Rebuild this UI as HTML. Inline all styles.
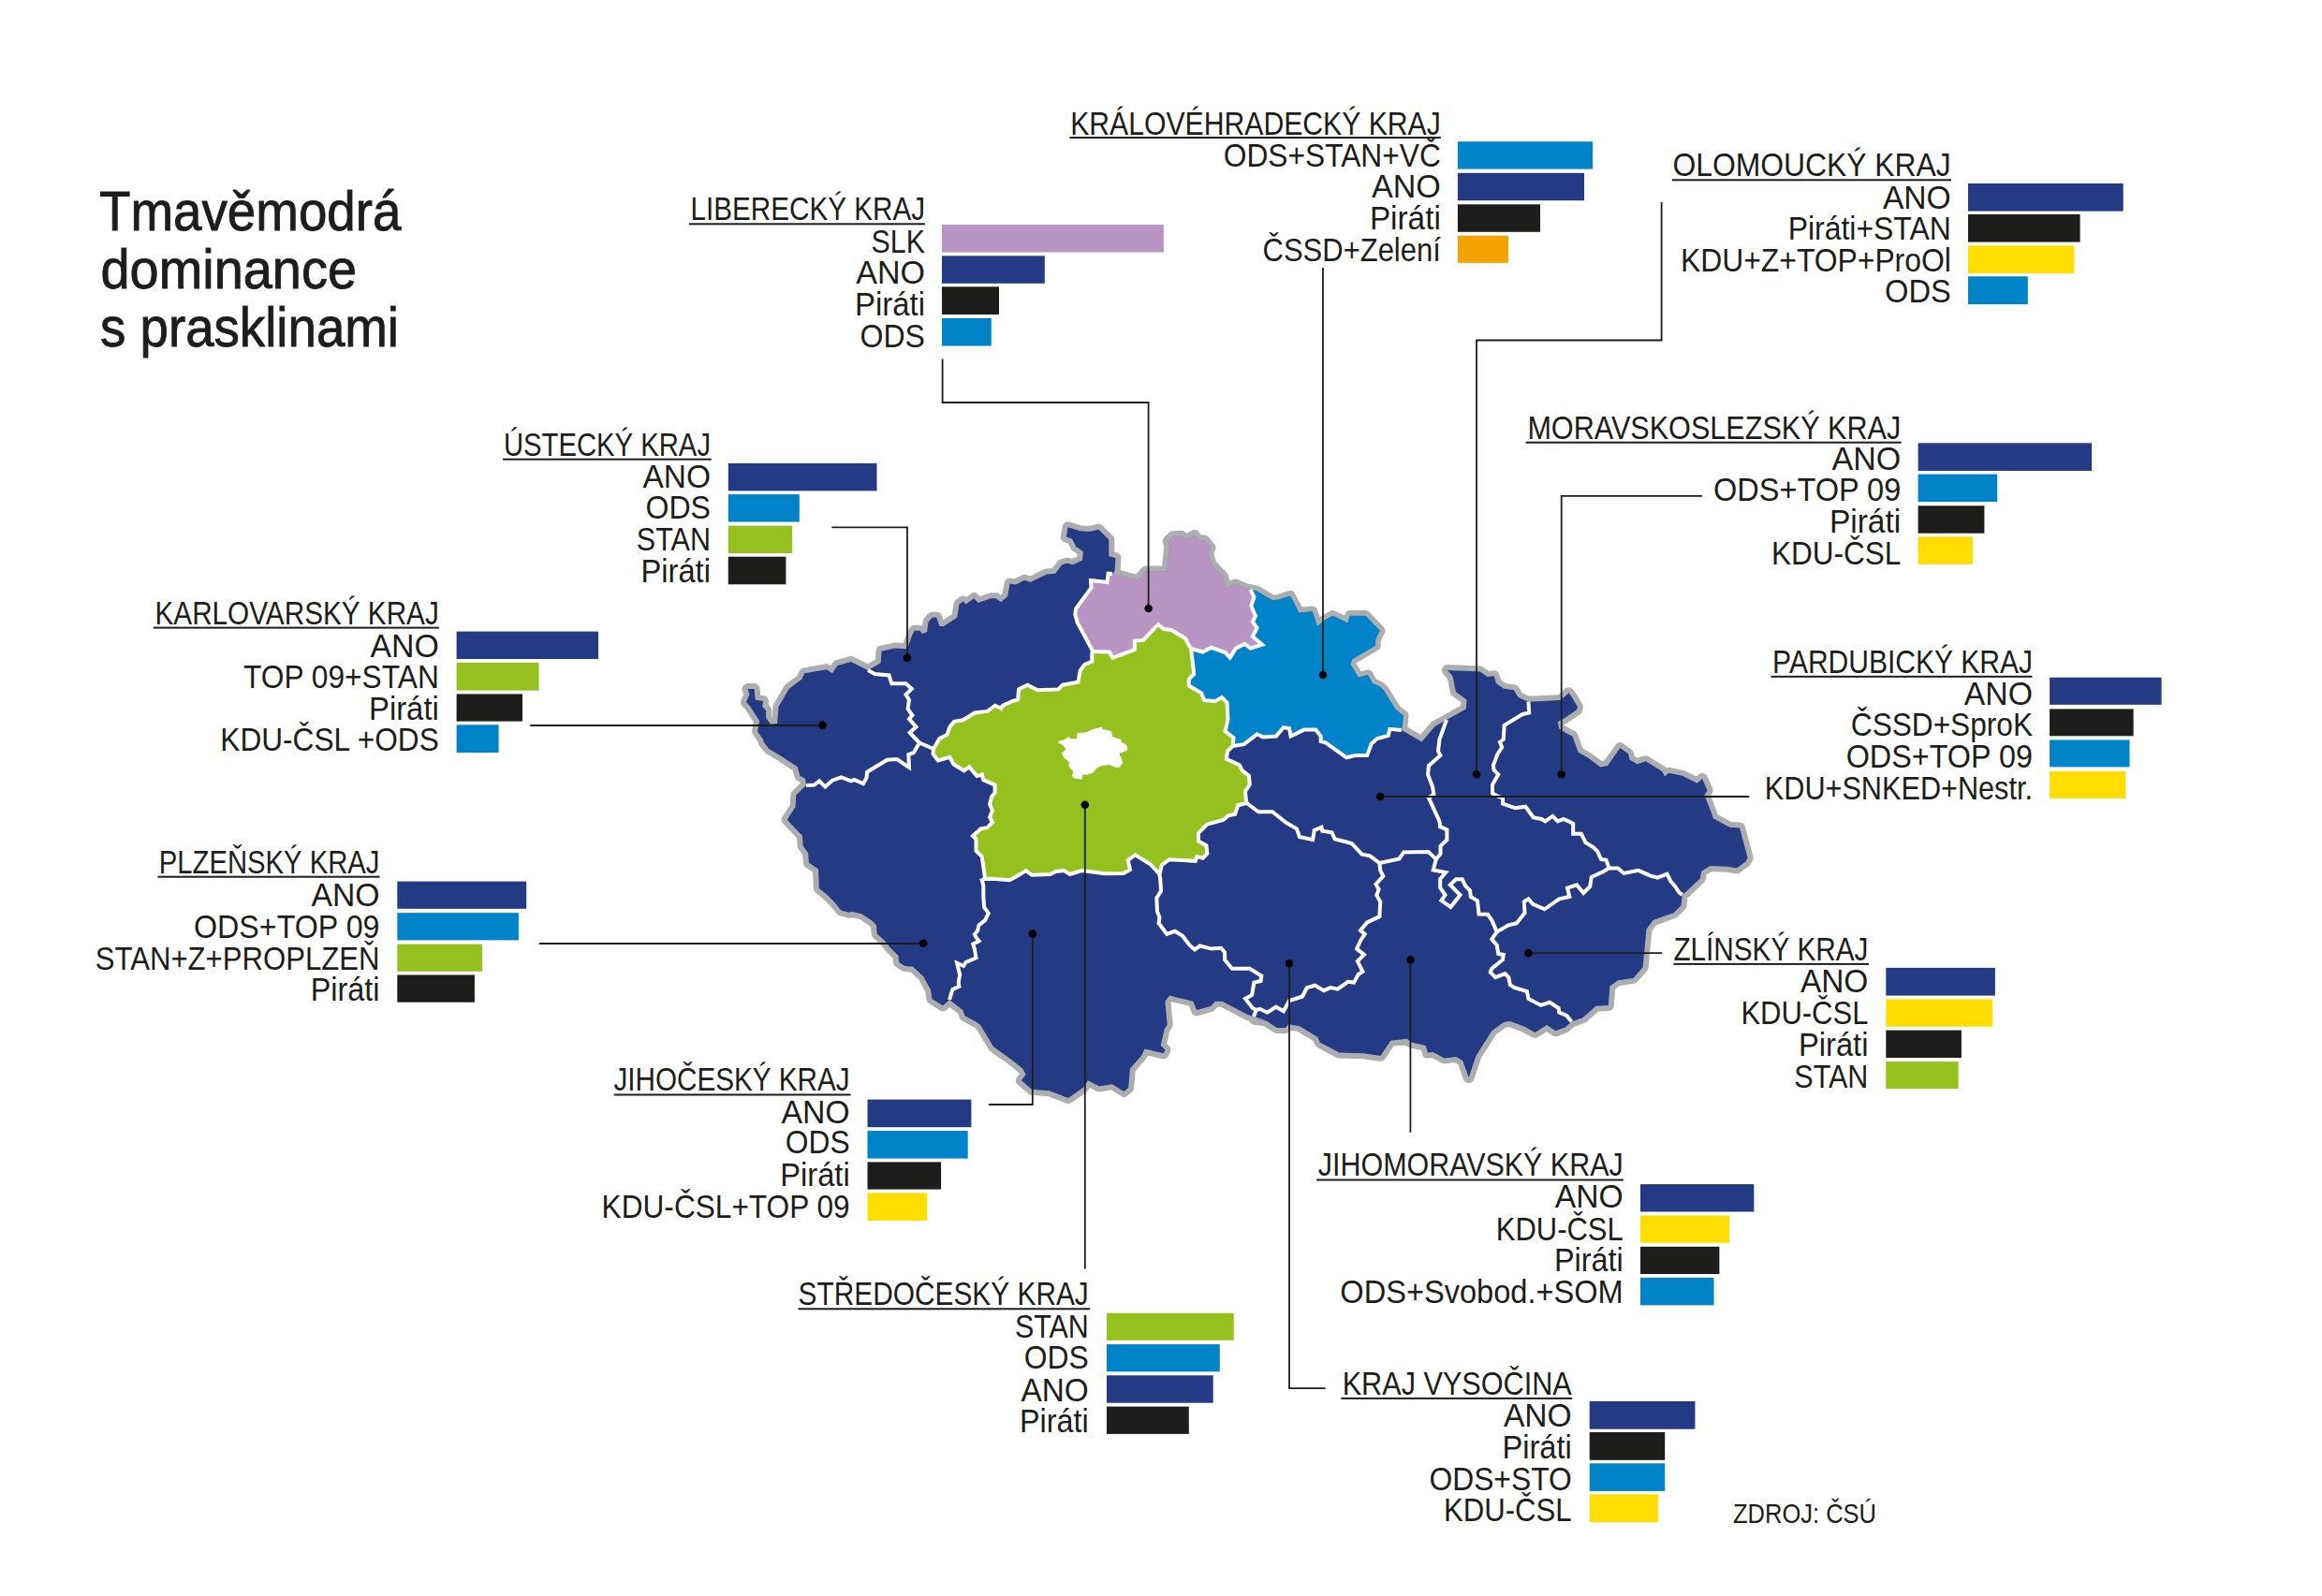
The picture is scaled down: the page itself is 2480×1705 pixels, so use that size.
<!DOCTYPE html>
<html><head><meta charset="utf-8"><title>Tmavěmodrá dominance s prasklinami</title>
<style>
html,body{margin:0;padding:0;background:#fff;}
body{width:2480px;height:1705px;overflow:hidden;}
svg{display:block;}
text{font-family:"Liberation Sans", sans-serif;fill:#1d1d1b;}
</style></head><body>
<svg width="2480" height="1705" viewBox="0 0 2480 1705">
<rect width="2480" height="1705" fill="#fff"/>

<text x="106" y="245.5" font-size="60" stroke="#1d1d1b" stroke-width="0.9" textLength="322.5" lengthAdjust="spacingAndGlyphs">Tmavěmodrá</text>
<text x="107.5" y="308" font-size="60" stroke="#1d1d1b" stroke-width="0.9" textLength="273.5" lengthAdjust="spacingAndGlyphs">dominance</text>
<text x="107" y="370" font-size="60" stroke="#1d1d1b" stroke-width="0.9" textLength="319.0" lengthAdjust="spacingAndGlyphs">s prasklinami</text>
<g id="map">
<polygon points="861.0,839.0 860.0,831.7 854.5,828.9 851.7,819.3 835.1,808.2 821.4,800.0 815.8,793.1 815.1,790.2 809.1,781.2 811.1,770.1 801.5,755.1 797.0,750.1 800.5,742.1 798.5,736.1 805.6,736.1 806.6,747.6 815.1,749.1 814.1,754.6 818.1,759.1 818.1,767.1 823.1,773.6 830.1,773.1 831.6,755.1 842.6,736.1 856.5,725.5 859.3,719.3 882.7,715.2 888.9,719.3 894.4,711.0 908.9,706.9 927.0,716.0 929.8,714.5 940.7,708.2 941.5,695.7 955.6,692.6 968.9,693.3 973.6,680.0 976.8,673.8 982.2,673.8 985.4,676.9 990.1,675.3 991.6,664.4 995.6,659.7 1000.3,659.7 1003.4,669.1 1008.1,669.1 1022.2,659.7 1024.5,645.6 1028.5,642.4 1031.6,645.6 1040.2,639.3 1044.9,644.0 1058.2,639.3 1063.7,639.3 1069.2,643.2 1076.2,636.9 1078.6,623.6 1084.9,624.4 1094.3,619.7 1100.5,622.1 1117.8,613.4 1127.2,612.7 1134.2,603.3 1139.7,601.7 1146.0,603.3 1156.1,598.6 1156.9,589.2 1149.1,583.7 1145.2,575.8 1138.9,573.5 1140.5,563.3 1153.8,567.2 1163.2,568.0 1173.4,565.7 1184.3,576.6 1184.3,593.9 1191.4,596.2 1190.6,610.3 1188.0,613.0 1215.3,620.2 1224.0,610.5 1246.4,610.5 1249.5,583.3 1247.7,578.1 1253.0,573.2 1261.8,572.8 1267.0,577.2 1275.8,571.9 1280.2,578.1 1286.3,577.6 1292.5,585.1 1289.8,590.4 1293.3,602.6 1306.5,616.7 1308.2,628.9 1319.6,624.6 1331.9,629.8 1335.5,630.0 1341.8,631.5 1359.1,641.6 1365.3,640.9 1377.9,636.9 1387.3,655.0 1401.4,653.4 1406.8,669.8 1412.3,664.4 1423.3,658.1 1439.7,665.9 1442.1,658.1 1458.5,658.1 1473.4,673.8 1468.7,683.2 1468.7,689.4 1443.7,704.3 1442.1,709.8 1450.7,723.9 1460.9,721.5 1465.6,730.2 1474.2,734.1 1477.3,737.2 1490.7,758.4 1498.5,764.6 1497.0,780.0 1518.5,792.5 1532.5,776.0 1545.0,769.0 1565.8,757.5 1566.6,747.5 1554.9,739.0 1551.5,722.3 1546.0,716.0 1580.7,717.6 1588.6,723.1 1595.6,722.3 1598.0,730.1 1605.8,735.6 1616.8,737.2 1621.5,745.0 1632.4,749.7 1666.9,748.1 1675.5,740.3 1679.4,745.8 1684.9,755.2 1684.1,758.3 1670.0,767.7 1663.8,770.9 1665.3,778.7 1674.7,784.2 1679.4,786.5 1685.7,803.8 1696.7,810.0 1709.2,819.4 1717.0,817.9 1730.3,799.1 1739.0,805.3 1740.5,811.6 1748.4,816.3 1757.8,813.2 1775.0,824.1 1778.1,829.6 1782.0,825.7 1796.9,828.8 1812.6,836.7 1818.1,832.0 1823.6,844.5 1820.4,849.2 1828.3,869.6 1829.8,874.3 1847.1,883.7 1858.0,884.4 1866.6,916.6 1864.3,920.4 1854.9,927.4 1845.5,925.8 1826.7,925.1 1817.3,930.5 1815.7,938.4 1800.1,953.3 1796.9,955.6 1795.4,967.4 1787.5,975.2 1765.6,983.0 1758.5,992.4 1754.6,1033.2 1744.4,1044.9 1728.0,1047.3 1719.4,1053.5 1717.8,1073.9 1704.5,1074.7 1690.4,1087.2 1678.6,1091.5 1671.6,1097.4 1661.4,1101.3 1652.0,1095.0 1639.5,1102.9 1627.7,1096.6 1612.8,1091.1 1605.8,1091.9 1593.3,1101.3 1576.4,1127.9 1568.7,1151.1 1562.2,1133.0 1555.1,1129.1 1542.8,1130.4 1530.6,1124.0 1524.8,1124.6 1522.8,1116.9 1507.3,1113.6 1502.8,1109.8 1485.3,1111.7 1474.4,1127.9 1456.9,1125.3 1430.4,1124.6 1409.8,1113.6 1407.2,1107.8 1387.8,1096.2 1376.2,1094.3 1372.9,1098.1 1363.9,1098.1 1352.3,1090.4 1340.0,1089.1 1352.5,1090.0 1339.0,1086.0 1332.1,1083.8 1305.5,1069.7 1297.7,1069.7 1293.0,1075.1 1278.1,1079.1 1274.2,1069.7 1249.1,1063.4 1244.4,1069.7 1246.7,1094.7 1243.6,1099.4 1239.7,1116.7 1244.4,1121.4 1242.8,1125.3 1222.5,1120.6 1219.3,1127.6 1206.8,1141.7 1205.2,1162.1 1200.5,1166.0 1188.0,1158.2 1173.9,1160.5 1162.1,1154.3 1156.7,1162.1 1141.0,1173.1 1120.6,1165.2 1101.8,1163.7 1090.9,1154.3 1095.6,1148.0 1092.4,1141.7 1083.0,1133.9 1064.2,1120.6 1061.1,1118.2 1047.0,1094.7 1042.3,1091.6 1030.5,1085.3 1028.2,1079.1 1014.0,1068.0 1007.2,1074.3 995.5,1067.2 993.9,1057.0 986.1,1042.9 975.1,1032.7 966.5,1032.0 960.2,1028.0 959.4,1021.0 950.0,1011.6 945.3,1005.3 936.7,997.5 935.9,988.1 931.2,983.4 920.3,976.3 910.1,974.0 906.2,974.8 898.3,972.4 890.5,963.0 882.7,955.2 874.8,948.9 874.0,928.6 863.9,921.5 863.1,911.3 857.6,903.5 856.8,891.7 855.1,890.9 840.7,875.8 849.6,862.0 850.3,849.6 861.0,839.0" fill="#abadaf" stroke="#abadaf" stroke-width="12" stroke-linejoin="round"/>
<polygon points="861.0,839.0 860.0,831.7 854.5,828.9 851.7,819.3 835.1,808.2 821.4,800.0 815.8,793.1 815.1,790.2 809.1,781.2 811.1,770.1 801.5,755.1 797.0,750.1 800.5,742.1 798.5,736.1 805.6,736.1 806.6,747.6 815.1,749.1 814.1,754.6 818.1,759.1 818.1,767.1 823.1,773.6 830.1,773.1 831.6,755.1 842.6,736.1 856.5,725.5 859.3,719.3 882.7,715.2 888.9,719.3 894.4,711.0 908.9,706.9 927.0,716.0 929.8,714.5 940.7,708.2 941.5,695.7 955.6,692.6 968.9,693.3 973.6,680.0 976.8,673.8 982.2,673.8 985.4,676.9 990.1,675.3 991.6,664.4 995.6,659.7 1000.3,659.7 1003.4,669.1 1008.1,669.1 1022.2,659.7 1024.5,645.6 1028.5,642.4 1031.6,645.6 1040.2,639.3 1044.9,644.0 1058.2,639.3 1063.7,639.3 1069.2,643.2 1076.2,636.9 1078.6,623.6 1084.9,624.4 1094.3,619.7 1100.5,622.1 1117.8,613.4 1127.2,612.7 1134.2,603.3 1139.7,601.7 1146.0,603.3 1156.1,598.6 1156.9,589.2 1149.1,583.7 1145.2,575.8 1138.9,573.5 1140.5,563.3 1153.8,567.2 1163.2,568.0 1173.4,565.7 1184.3,576.6 1184.3,593.9 1191.4,596.2 1190.6,610.3 1188.0,613.0 1215.3,620.2 1224.0,610.5 1246.4,610.5 1249.5,583.3 1247.7,578.1 1253.0,573.2 1261.8,572.8 1267.0,577.2 1275.8,571.9 1280.2,578.1 1286.3,577.6 1292.5,585.1 1289.8,590.4 1293.3,602.6 1306.5,616.7 1308.2,628.9 1319.6,624.6 1331.9,629.8 1335.5,630.0 1341.8,631.5 1359.1,641.6 1365.3,640.9 1377.9,636.9 1387.3,655.0 1401.4,653.4 1406.8,669.8 1412.3,664.4 1423.3,658.1 1439.7,665.9 1442.1,658.1 1458.5,658.1 1473.4,673.8 1468.7,683.2 1468.7,689.4 1443.7,704.3 1442.1,709.8 1450.7,723.9 1460.9,721.5 1465.6,730.2 1474.2,734.1 1477.3,737.2 1490.7,758.4 1498.5,764.6 1497.0,780.0 1518.5,792.5 1532.5,776.0 1545.0,769.0 1565.8,757.5 1566.6,747.5 1554.9,739.0 1551.5,722.3 1546.0,716.0 1580.7,717.6 1588.6,723.1 1595.6,722.3 1598.0,730.1 1605.8,735.6 1616.8,737.2 1621.5,745.0 1632.4,749.7 1666.9,748.1 1675.5,740.3 1679.4,745.8 1684.9,755.2 1684.1,758.3 1670.0,767.7 1663.8,770.9 1665.3,778.7 1674.7,784.2 1679.4,786.5 1685.7,803.8 1696.7,810.0 1709.2,819.4 1717.0,817.9 1730.3,799.1 1739.0,805.3 1740.5,811.6 1748.4,816.3 1757.8,813.2 1775.0,824.1 1778.1,829.6 1782.0,825.7 1796.9,828.8 1812.6,836.7 1818.1,832.0 1823.6,844.5 1820.4,849.2 1828.3,869.6 1829.8,874.3 1847.1,883.7 1858.0,884.4 1866.6,916.6 1864.3,920.4 1854.9,927.4 1845.5,925.8 1826.7,925.1 1817.3,930.5 1815.7,938.4 1800.1,953.3 1796.9,955.6 1795.4,967.4 1787.5,975.2 1765.6,983.0 1758.5,992.4 1754.6,1033.2 1744.4,1044.9 1728.0,1047.3 1719.4,1053.5 1717.8,1073.9 1704.5,1074.7 1690.4,1087.2 1678.6,1091.5 1671.6,1097.4 1661.4,1101.3 1652.0,1095.0 1639.5,1102.9 1627.7,1096.6 1612.8,1091.1 1605.8,1091.9 1593.3,1101.3 1576.4,1127.9 1568.7,1151.1 1562.2,1133.0 1555.1,1129.1 1542.8,1130.4 1530.6,1124.0 1524.8,1124.6 1522.8,1116.9 1507.3,1113.6 1502.8,1109.8 1485.3,1111.7 1474.4,1127.9 1456.9,1125.3 1430.4,1124.6 1409.8,1113.6 1407.2,1107.8 1387.8,1096.2 1376.2,1094.3 1372.9,1098.1 1363.9,1098.1 1352.3,1090.4 1340.0,1089.1 1352.5,1090.0 1339.0,1086.0 1332.1,1083.8 1305.5,1069.7 1297.7,1069.7 1293.0,1075.1 1278.1,1079.1 1274.2,1069.7 1249.1,1063.4 1244.4,1069.7 1246.7,1094.7 1243.6,1099.4 1239.7,1116.7 1244.4,1121.4 1242.8,1125.3 1222.5,1120.6 1219.3,1127.6 1206.8,1141.7 1205.2,1162.1 1200.5,1166.0 1188.0,1158.2 1173.9,1160.5 1162.1,1154.3 1156.7,1162.1 1141.0,1173.1 1120.6,1165.2 1101.8,1163.7 1090.9,1154.3 1095.6,1148.0 1092.4,1141.7 1083.0,1133.9 1064.2,1120.6 1061.1,1118.2 1047.0,1094.7 1042.3,1091.6 1030.5,1085.3 1028.2,1079.1 1014.0,1068.0 1007.2,1074.3 995.5,1067.2 993.9,1057.0 986.1,1042.9 975.1,1032.7 966.5,1032.0 960.2,1028.0 959.4,1021.0 950.0,1011.6 945.3,1005.3 936.7,997.5 935.9,988.1 931.2,983.4 920.3,976.3 910.1,974.0 906.2,974.8 898.3,972.4 890.5,963.0 882.7,955.2 874.8,948.9 874.0,928.6 863.9,921.5 863.1,911.3 857.6,903.5 856.8,891.7 855.1,890.9 840.7,875.8 849.6,862.0 850.3,849.6 861.0,839.0" fill="#243a85"/>
<polygon points="1188.0,613.0 1215.3,620.2 1224.0,610.5 1246.4,610.5 1249.5,583.3 1247.7,578.1 1253.0,573.2 1261.8,572.8 1267.0,577.2 1275.8,571.9 1280.2,578.1 1286.3,577.6 1292.5,585.1 1289.8,590.4 1293.3,602.6 1306.5,616.7 1308.2,628.9 1319.6,624.6 1331.9,629.8 1335.5,630.0 1339.5,637.7 1336.3,647.1 1341.0,658.1 1337.9,664.4 1342.6,670.6 1337.9,680.0 1348.1,688.6 1335.6,692.6 1329.3,687.9 1319.9,692.6 1313.6,702.7 1308.9,697.3 1294.0,691.8 1284.6,696.5 1272.0,693.0 1269.0,688.0 1266.0,682.0 1251.0,673.0 1243.0,672.0 1237.0,667.0 1221.2,683.9 1211.8,684.7 1211.8,694.1 1188.3,702.7 1185.0,696.5 1167.0,696.0 1166.3,694.1 1150.7,665.1 1148.3,656.5 1149.1,650.3 1165.5,628.0 1165.0,620.0 1182.5,622.0 1183.6,612.7 1188.0,613.0" fill="#b995c4" stroke="#b995c4" stroke-width="0.8"/>
<polygon points="1335.5,630.0 1341.8,631.5 1359.1,641.6 1365.3,640.9 1377.9,636.9 1387.3,655.0 1401.4,653.4 1406.8,669.8 1412.3,664.4 1423.3,658.1 1439.7,665.9 1442.1,658.1 1458.5,658.1 1473.4,673.8 1468.7,683.2 1468.7,689.4 1443.7,704.3 1442.1,709.8 1450.7,723.9 1460.9,721.5 1465.6,730.2 1474.2,734.1 1477.3,737.2 1490.7,758.4 1498.5,764.6 1497.0,780.0 1484.3,778.8 1482.8,785.9 1471.0,789.0 1464.8,794.5 1460.1,807.0 1447.5,807.0 1438.1,809.3 1416.2,793.7 1410.7,792.1 1410.7,786.6 1405.2,779.6 1392.7,779.6 1378.6,786.6 1377.0,778.0 1370.8,777.2 1362.9,786.6 1348.8,787.4 1342.6,784.3 1328.5,795.2 1316.7,797.0 1317.5,788.2 1308.5,781.0 1311.5,769.0 1310.5,750.5 1305.0,745.0 1298.0,749.0 1286.2,748.2 1283.1,740.3 1269.8,732.5 1269.8,725.5 1275.2,720.0 1273.7,706.7 1272.0,693.0 1284.6,696.5 1294.0,691.8 1308.9,697.3 1313.6,702.7 1319.9,692.6 1329.3,687.9 1335.6,692.6 1348.1,688.6 1337.9,680.0 1342.6,670.6 1337.9,664.4 1341.0,658.1 1336.3,647.1 1339.5,637.7 1335.5,630.0" fill="#0083c8" stroke="#0083c8" stroke-width="0.8"/>
<polygon points="997.0,800.0 1003.4,788.9 1011.6,784.8 1014.4,776.5 1019.1,770.9 1028.5,769.3 1041.0,761.5 1054.3,759.9 1062.9,753.7 1069.2,756.8 1070.8,753.7 1081.7,749.0 1087.2,747.4 1088.0,736.4 1097.4,731.7 1108.4,737.2 1130.3,736.4 1135.0,731.7 1151.5,728.6 1153.8,716.1 1158.5,709.8 1166.3,706.7 1166.3,697.3 1167.0,696.0 1185.0,696.5 1188.3,702.7 1211.8,694.1 1211.8,684.7 1221.2,683.9 1237.0,667.0 1243.0,672.0 1251.0,673.0 1266.0,682.0 1269.0,688.0 1272.0,693.0 1273.7,706.7 1275.2,720.0 1269.8,725.5 1269.8,732.5 1283.1,740.3 1286.2,748.2 1298.0,749.0 1305.0,745.0 1310.5,750.5 1311.5,769.0 1308.5,781.0 1317.5,788.2 1316.7,797.0 1311.2,802.3 1309.7,810.9 1323.8,817.2 1326.9,823.4 1334.0,828.9 1334.7,838.3 1330.0,845.4 1330.8,854.0 1331.6,858.0 1322.2,860.3 1319.1,869.7 1312.0,871.2 1306.5,875.9 1289.3,880.6 1279.9,890.0 1279.9,898.6 1288.5,903.3 1289.3,912.0 1284.6,916.7 1278.3,915.1 1276.8,919.8 1248.6,918.2 1240.7,924.5 1238.4,934.0 1229.0,923.5 1212.5,913.3 1204.7,918.8 1207.0,929.0 1200.0,932.9 1180.0,933.3 1155.3,930.1 1142.7,934.0 1136.5,930.1 1127.8,930.9 1121.6,934.0 1102.0,934.8 1095.7,930.1 1089.5,934.0 1078.5,940.3 1059.7,938.7 1052.0,939.0 1050.3,925.4 1048.7,915.2 1042.5,909.0 1042.5,896.4 1039.0,893.0 1047.5,885.4 1054.4,884.1 1059.9,878.5 1057.1,873.0 1059.9,866.1 1057.1,859.2 1059.2,851.0 1062.6,846.8 1062.6,838.6 1050.2,833.0 1048.9,827.5 1043.3,828.9 1035.1,819.3 1029.6,823.4 1018.5,816.5 1014.4,808.9 1002.0,812.4 996.5,805.5 997.0,800.0" fill="#95c11f" stroke="#95c11f" stroke-width="0.8"/>
<polygon points="1129.6,793.3 1131.3,791.6 1136.4,790.5 1141.4,787.1 1143.7,789.3 1149.9,789.3 1150.7,783.1 1159.5,782.6 1166.8,779.2 1176.4,776.4 1178.1,779.2 1182.0,779.7 1187.1,781.4 1188.2,787.1 1197.3,789.9 1197.8,793.3 1202.3,795.0 1204.6,799.5 1202.9,802.3 1195.6,805.1 1196.1,807.9 1197.8,809.1 1199.0,815.3 1197.3,817.0 1196.1,819.8 1191.1,819.8 1184.9,817.0 1176.4,818.1 1170.8,820.9 1167.9,824.9 1165.1,826.6 1160.6,827.7 1156.7,827.1 1155.5,832.8 1147.6,831.6 1144.8,828.8 1146.5,824.3 1143.1,820.9 1141.4,817.5 1142.0,814.1 1136.9,810.2 1133.5,804.6 1135.8,802.9 1138.6,800.0 1133.5,795.0" fill="#fff"/>
<polyline points="927.0,716.0 934.4,720.0 949.6,721.4 952.3,730.3 967.5,730.3 973.7,735.8 967.5,742.0 971.0,747.6 969.6,757.2 974.4,764.1 971.0,768.2 978.5,776.5 971.6,782.7 982.0,793.5" fill="none" stroke="#fff" stroke-width="4" stroke-linejoin="miter" stroke-miterlimit="3"/>
<polyline points="861.0,839.0 869.6,838.6 875.1,834.4 881.3,840.6 888.9,833.7 898.6,830.3 908.9,834.4 912.4,833.0 922.0,837.2 925.5,831.0 926.1,824.8 947.5,811.7 957.9,811.0 971.0,819.9 970.3,806.2 975.8,804.1 982.0,793.5" fill="none" stroke="#fff" stroke-width="4" stroke-linejoin="miter" stroke-miterlimit="3"/>
<polyline points="982.0,793.5 997.0,800.0" fill="none" stroke="#fff" stroke-width="4" stroke-linejoin="miter" stroke-miterlimit="3"/>
<polyline points="997.0,800.0 1003.4,788.9 1011.6,784.8 1014.4,776.5 1019.1,770.9 1028.5,769.3 1041.0,761.5 1054.3,759.9 1062.9,753.7 1069.2,756.8 1070.8,753.7 1081.7,749.0 1087.2,747.4 1088.0,736.4 1097.4,731.7 1108.4,737.2 1130.3,736.4 1135.0,731.7 1151.5,728.6 1153.8,716.1 1158.5,709.8 1166.3,706.7 1166.3,697.3 1167.0,696.0" fill="none" stroke="#fff" stroke-width="4" stroke-linejoin="miter" stroke-miterlimit="3"/>
<polyline points="1188.0,613.0 1183.6,612.7 1182.5,622.0 1165.0,620.0 1165.5,628.0 1149.1,650.3 1148.3,656.5 1150.7,665.1 1166.3,694.1 1167.0,696.0" fill="none" stroke="#fff" stroke-width="4" stroke-linejoin="miter" stroke-miterlimit="3"/>
<polyline points="1167.0,696.0 1185.0,696.5 1188.3,702.7 1211.8,694.1 1211.8,684.7 1221.2,683.9 1237.0,667.0 1243.0,672.0 1251.0,673.0 1266.0,682.0 1269.0,688.0 1272.0,693.0" fill="none" stroke="#fff" stroke-width="4" stroke-linejoin="miter" stroke-miterlimit="3"/>
<polyline points="1272.0,693.0 1284.6,696.5 1294.0,691.8 1308.9,697.3 1313.6,702.7 1319.9,692.6 1329.3,687.9 1335.6,692.6 1348.1,688.6 1337.9,680.0 1342.6,670.6 1337.9,664.4 1341.0,658.1 1336.3,647.1 1339.5,637.7 1335.5,630.0" fill="none" stroke="#fff" stroke-width="4" stroke-linejoin="miter" stroke-miterlimit="3"/>
<polyline points="1272.0,693.0 1273.7,706.7 1275.2,720.0 1269.8,725.5 1269.8,732.5 1283.1,740.3 1286.2,748.2 1298.0,749.0 1305.0,745.0 1310.5,750.5 1311.5,769.0 1308.5,781.0 1317.5,788.2 1316.7,797.0" fill="none" stroke="#fff" stroke-width="4" stroke-linejoin="miter" stroke-miterlimit="3"/>
<polyline points="1316.7,797.0 1328.5,795.2 1342.6,784.3 1348.8,787.4 1362.9,786.6 1370.8,777.2 1377.0,778.0 1378.6,786.6 1392.7,779.6 1405.2,779.6 1410.7,786.6 1410.7,792.1 1416.2,793.7 1438.1,809.3 1447.5,807.0 1460.1,807.0 1464.8,794.5 1471.0,789.0 1482.8,785.9 1484.3,778.8 1497.0,780.0" fill="none" stroke="#fff" stroke-width="4" stroke-linejoin="miter" stroke-miterlimit="3"/>
<polyline points="1316.7,797.0 1311.2,802.3 1309.7,810.9 1323.8,817.2 1326.9,823.4 1334.0,828.9 1334.7,838.3 1330.0,845.4 1330.8,854.0 1331.6,858.0" fill="none" stroke="#fff" stroke-width="4" stroke-linejoin="miter" stroke-miterlimit="3"/>
<polyline points="1331.6,858.0 1322.2,860.3 1319.1,869.7 1312.0,871.2 1306.5,875.9 1289.3,880.6 1279.9,890.0 1279.9,898.6 1288.5,903.3 1289.3,912.0 1284.6,916.7 1278.3,915.1 1276.8,919.8 1248.6,918.2 1240.7,924.5 1238.4,934.0" fill="none" stroke="#fff" stroke-width="4" stroke-linejoin="miter" stroke-miterlimit="3"/>
<polyline points="1238.4,934.0 1229.0,923.5 1212.5,913.3 1204.7,918.8 1207.0,929.0 1200.0,932.9 1180.0,933.3 1155.3,930.1 1142.7,934.0 1136.5,930.1 1127.8,930.9 1121.6,934.0 1102.0,934.8 1095.7,930.1 1089.5,934.0 1078.5,940.3 1059.7,938.7 1052.0,939.0" fill="none" stroke="#fff" stroke-width="4" stroke-linejoin="miter" stroke-miterlimit="3"/>
<polyline points="997.0,800.0 996.5,805.5 1002.0,812.4 1014.4,808.9 1018.5,816.5 1029.6,823.4 1035.1,819.3 1043.3,828.9 1048.9,827.5 1050.2,833.0 1062.6,838.6 1062.6,846.8 1059.2,851.0 1057.1,859.2 1059.9,866.1 1057.1,873.0 1059.9,878.5 1054.4,884.1 1047.5,885.4 1039.0,893.0 1042.5,896.4 1042.5,909.0 1048.7,915.2 1050.3,925.4 1052.0,939.0" fill="none" stroke="#fff" stroke-width="4" stroke-linejoin="miter" stroke-miterlimit="3"/>
<polyline points="1052.0,939.0 1048.7,940.3 1050.3,945.8 1050.3,956.8 1051.1,969.3 1055.8,975.6 1051.9,983.4 1045.6,988.1 1044.0,994.4 1040.9,998.3 1042.5,1001.4 1045.6,1005.3 1039.3,1008.5 1040.9,1013.9 1042.5,1023.3 1031.5,1028.0 1029.1,1032.0 1022.1,1028.8 1025.2,1041.4 1023.7,1049.2 1024.4,1053.9 1017.4,1057.0 1014.0,1068.0" fill="none" stroke="#fff" stroke-width="4" stroke-linejoin="miter" stroke-miterlimit="3"/>
<polyline points="1238.4,934.0 1239.2,939.2 1240.0,951.7 1235.3,959.5 1236.0,973.6 1238.4,979.9 1237.6,986.2 1246.2,997.9 1254.8,994.8 1262.7,999.5 1270.5,1009.7 1276.0,1014.4 1281.5,1010.5 1294.0,1013.6 1304.2,1012.8 1308.1,1017.5 1308.1,1025.3 1315.9,1034.7 1334.7,1034.7 1347.3,1042.6 1346.5,1048.0 1339.4,1049.6 1337.1,1062.9 1330.0,1066.9 1337.9,1077.0 1341.7,1079.0" fill="none" stroke="#fff" stroke-width="4" stroke-linejoin="miter" stroke-miterlimit="3"/>
<polyline points="1341.7,1079.0 1339.0,1086.0" fill="none" stroke="#fff" stroke-width="4" stroke-linejoin="miter" stroke-miterlimit="3"/>
<polyline points="1341.7,1079.0 1345.7,1077.8 1353.5,1081.7 1362.9,1075.5 1370.8,1080.2 1377.0,1069.2 1391.1,1064.5 1395.8,1055.1 1404.5,1052.7 1413.8,1058.2 1420.9,1055.1 1428.7,1056.7 1439.7,1048.8 1446.0,1049.6 1450.7,1041.0 1455.4,1037.9 1449.9,1026.9 1456.9,1019.9 1449.1,1013.6 1453.0,1005.0 1457.7,997.9 1453.0,994.0 1460.1,985.4 1473.4,979.1 1474.2,963.4 1470.3,956.4 1472.6,950.1 1469.5,944.6 1477.3,936.0 1474.2,929.8 1473.4,922.0" fill="none" stroke="#fff" stroke-width="4" stroke-linejoin="miter" stroke-miterlimit="3"/>
<polyline points="1331.6,858.0 1344.1,867.3 1359.0,867.3 1373.9,879.1 1384.9,885.3 1388.0,894.0 1402.1,897.1 1403.7,886.9 1411.5,883.8 1412.3,887.7 1422.5,889.3 1425.6,896.3 1443.6,901.0 1454.6,912.7 1463.2,914.3 1473.4,922.0" fill="none" stroke="#fff" stroke-width="4" stroke-linejoin="miter" stroke-miterlimit="3"/>
<polyline points="1473.4,922.0 1494.5,917.4 1499.2,910.4 1525.6,910.0 1533.8,917.9" fill="none" stroke="#fff" stroke-width="4" stroke-linejoin="miter" stroke-miterlimit="3"/>
<polyline points="1545.0,769.0 1537.5,789.8 1536.0,802.3 1538.4,807.0 1525.9,818.0 1525.1,827.4 1529.8,839.9 1531.4,848.5 1525.9,852.4 1536.8,875.9 1538.0,880.0 1538.0,883.1 1545.4,886.3 1545.4,897.2 1538.5,903.8 1538.5,912.0 1533.8,917.9" fill="none" stroke="#fff" stroke-width="4" stroke-linejoin="miter" stroke-miterlimit="3"/>
<polyline points="1533.8,917.9 1530.7,929.5 1544.1,932.0 1538.2,938.9 1538.2,948.3 1543.5,956.1 1539.4,962.1 1549.4,969.0 1559.5,956.1 1548.8,945.2 1555.1,939.2 1561.7,939.2 1565.1,946.4 1570.1,951.4 1570.8,958.0 1578.0,962.4 1579.5,976.5 1588.9,976.8 1593.3,983.0 1598.7,995.6" fill="none" stroke="#fff" stroke-width="4" stroke-linejoin="miter" stroke-miterlimit="3"/>
<polyline points="1598.7,995.6 1610.5,988.5 1619.9,986.2 1628.5,975.2 1627.7,963.4 1632.4,960.3 1637.1,965.8 1649.7,971.3 1665.3,960.3 1676.3,958.0 1674.0,948.6 1684.1,945.4 1691.2,954.0 1698.2,947.0 1699.8,936.8 1712.3,931.3 1718.6,927.4" fill="none" stroke="#fff" stroke-width="4" stroke-linejoin="miter" stroke-miterlimit="3"/>
<polyline points="1632.4,749.7 1633.2,761.5 1626.2,763.0 1606.6,774.8 1605.8,789.7 1601.9,792.8 1604.2,798.3 1599.5,805.3 1594.8,817.9 1595.6,822.6 1600.3,827.3 1594.0,838.2 1594.0,847.6 1600.3,850.8 1605.0,852.3 1605.0,858.6 1618.3,863.3 1629.3,861.7 1637.9,873.5 1646.5,875.0 1650.4,877.4 1658.3,871.9 1663.8,877.4 1670.0,875.0 1680.2,879.7 1680.2,890.7 1688.8,890.7 1693.5,900.1 1701.4,904.8 1706.1,909.4 1710.0,918.0 1715.5,918.8 1718.6,927.4" fill="none" stroke="#fff" stroke-width="4" stroke-linejoin="miter" stroke-miterlimit="3"/>
<polyline points="1718.6,927.4 1728.0,927.4 1734.3,932.9 1749.9,929.8 1764.0,936.0 1770.3,937.6 1780.5,933.7 1784.4,941.5 1789.1,947.0 1793.8,954.0 1796.9,955.6" fill="none" stroke="#fff" stroke-width="4" stroke-linejoin="miter" stroke-miterlimit="3"/>
<polyline points="1598.7,995.6 1593.3,1003.4 1598.7,1009.7 1600.3,1019.1 1605.8,1019.9 1605.0,1025.3 1593.3,1034.7 1591.7,1038.6 1597.2,1044.1 1607.4,1040.2 1611.3,1044.1 1612.8,1052.0 1617.6,1055.1 1630.9,1059.0 1632.4,1066.9 1645.7,1073.9 1655.1,1070.8 1664.6,1077.0 1665.3,1081.7 1673.2,1084.9 1678.6,1091.5" fill="none" stroke="#fff" stroke-width="4" stroke-linejoin="miter" stroke-miterlimit="3"/>
</g>
<polyline points="1006.6,383.5 1006.6,430.0 1226.6,430.0 1226.6,650.0" fill="none" stroke="#1d1d1b" stroke-width="1.8"/>
<circle cx="1226.6" cy="650" r="4.3" fill="#000"/>
<polyline points="1413.0,286.0 1413.0,721.0" fill="none" stroke="#1d1d1b" stroke-width="1.8"/>
<circle cx="1413" cy="721" r="4.3" fill="#000"/>
<polyline points="1774.6,216.0 1774.6,363.5 1577.0,363.5 1577.0,827.3" fill="none" stroke="#1d1d1b" stroke-width="1.8"/>
<circle cx="1577" cy="827.3" r="4.3" fill="#000"/>
<polyline points="1818.0,529.8 1667.7,529.8 1667.7,827.3" fill="none" stroke="#1d1d1b" stroke-width="1.8"/>
<circle cx="1667.7" cy="827.3" r="4.3" fill="#000"/>
<polyline points="1868.3,851.0 1474.2,851.0" fill="none" stroke="#1d1d1b" stroke-width="1.8"/>
<circle cx="1474.2" cy="851" r="4.3" fill="#000"/>
<polyline points="1775.2,1018.2 1632.4,1018.2" fill="none" stroke="#1d1d1b" stroke-width="1.8"/>
<circle cx="1632.4" cy="1018.2" r="4.3" fill="#000"/>
<polyline points="1506.4,1209.7 1506.4,1025.3" fill="none" stroke="#1d1d1b" stroke-width="1.8"/>
<circle cx="1506.4" cy="1025.3" r="4.3" fill="#000"/>
<polyline points="1415.6,1483.1 1377.0,1483.1 1377.0,1029.3" fill="none" stroke="#1d1d1b" stroke-width="1.8"/>
<circle cx="1377" cy="1029.3" r="4.3" fill="#000"/>
<polyline points="1158.8,1355.5 1158.8,859.7" fill="none" stroke="#1d1d1b" stroke-width="1.8"/>
<circle cx="1158.8" cy="859.7" r="4.3" fill="#000"/>
<polyline points="1056.0,1180.0 1102.8,1180.0 1102.8,997.6" fill="none" stroke="#1d1d1b" stroke-width="1.8"/>
<circle cx="1102.8" cy="997.6" r="4.3" fill="#000"/>
<polyline points="575.8,1008.0 986.1,1008.0" fill="none" stroke="#1d1d1b" stroke-width="1.8"/>
<circle cx="986.1" cy="1007.8" r="4.3" fill="#000"/>
<polyline points="566.2,775.0 878.6,775.0" fill="none" stroke="#1d1d1b" stroke-width="1.8"/>
<circle cx="878.6" cy="774.6" r="4.3" fill="#000"/>
<polyline points="888.4,563.3 969.0,563.3 969.0,702.7" fill="none" stroke="#1d1d1b" stroke-width="1.8"/>
<circle cx="969" cy="702.7" r="4.3" fill="#000"/>
<text x="737.6" y="235.3" font-size="35.5" textLength="250.4" lengthAdjust="spacingAndGlyphs">LIBERECKÝ KRAJ</text>
<rect x="735.8" y="238.3" width="252.2" height="2" fill="#1d1d1b"/>
<rect x="1006" y="240" width="236.8" height="29.5" fill="#b995c4"/>
<rect x="1006" y="273.3" width="109.8" height="29.5" fill="#243a85"/>
<rect x="1006" y="306.3" width="61.0" height="29.7" fill="#1d1d1b"/>
<rect x="1006" y="340" width="52.8" height="29.5" fill="#0083c8"/>
<text x="930.6" y="269.6" font-size="35.5" textLength="57.4" lengthAdjust="spacingAndGlyphs">SLK</text>
<text x="914.3" y="303.4" font-size="35.5" textLength="73.7" lengthAdjust="spacingAndGlyphs">ANO</text>
<text x="913.0" y="337.1" font-size="35.5" textLength="75.0" lengthAdjust="spacingAndGlyphs">Piráti</text>
<text x="918.5" y="370.6" font-size="35.5" textLength="69.5" lengthAdjust="spacingAndGlyphs">ODS</text>
<text x="1143.2" y="144" font-size="35.5" textLength="395.6" lengthAdjust="spacingAndGlyphs">KRÁLOVÉHRADECKÝ KRAJ</text>
<rect x="1142.4" y="146.0" width="396.4" height="2" fill="#1d1d1b"/>
<rect x="1556.9" y="151.2" width="144.1" height="29.4" fill="#0083c8"/>
<rect x="1556.9" y="184.8" width="135.1" height="29.4" fill="#243a85"/>
<rect x="1556.9" y="218.3" width="88.1" height="29.5" fill="#1d1d1b"/>
<rect x="1556.9" y="251.7" width="54.1" height="29.2" fill="#f4a300"/>
<text x="1306.8" y="177.6" font-size="35.5" textLength="232.0" lengthAdjust="spacingAndGlyphs">ODS+STAN+VČ</text>
<text x="1465.0" y="211.2" font-size="35.5" textLength="73.8" lengthAdjust="spacingAndGlyphs">ANO</text>
<text x="1462.9" y="245.3" font-size="35.5" textLength="75.9" lengthAdjust="spacingAndGlyphs">Piráti</text>
<text x="1348.6" y="278.9" font-size="35.5" textLength="190.2" lengthAdjust="spacingAndGlyphs">ČSSD+Zelení</text>
<text x="1786.4" y="188.4" font-size="35.5" textLength="297.4" lengthAdjust="spacingAndGlyphs">OLOMOUCKÝ KRAJ</text>
<rect x="1785.8" y="191.3" width="298.2" height="2" fill="#1d1d1b"/>
<rect x="2102" y="196" width="165.7" height="29.6" fill="#243a85"/>
<rect x="2102" y="229" width="119.6" height="29.6" fill="#1d1d1b"/>
<rect x="2102" y="262.3" width="113.3" height="29.6" fill="#ffdd00"/>
<rect x="2102" y="295.3" width="63.8" height="29.7" fill="#0083c8"/>
<text x="2010.9" y="222.6" font-size="35.5" textLength="72.9" lengthAdjust="spacingAndGlyphs">ANO</text>
<text x="1909.7" y="256.4" font-size="35.5" textLength="174.1" lengthAdjust="spacingAndGlyphs">Piráti+STAN</text>
<text x="1795.0" y="290.1" font-size="35.5" textLength="288.8" lengthAdjust="spacingAndGlyphs">KDU+Z+TOP+ProOl</text>
<text x="2013.0" y="322.6" font-size="35.5" textLength="70.8" lengthAdjust="spacingAndGlyphs">ODS</text>
<text x="538.0" y="486.8" font-size="35.5" textLength="221.0" lengthAdjust="spacingAndGlyphs">ÚSTECKÝ KRAJ</text>
<rect x="537.2" y="489.7" width="222.6" height="2" fill="#1d1d1b"/>
<rect x="777.8" y="494.9" width="158.7" height="29.5" fill="#243a85"/>
<rect x="777.8" y="528.1" width="76.0" height="29.4" fill="#0083c8"/>
<rect x="777.8" y="561.6" width="68.4" height="29.4" fill="#95c11f"/>
<rect x="777.8" y="594.7" width="61.6" height="29.6" fill="#1d1d1b"/>
<text x="686.4" y="520.9" font-size="35.5" textLength="72.6" lengthAdjust="spacingAndGlyphs">ANO</text>
<text x="689.5" y="554.0" font-size="35.5" textLength="69.5" lengthAdjust="spacingAndGlyphs">ODS</text>
<text x="679.8" y="588.1" font-size="35.5" textLength="79.2" lengthAdjust="spacingAndGlyphs">STAN</text>
<text x="684.4" y="622.2" font-size="35.5" textLength="74.6" lengthAdjust="spacingAndGlyphs">Piráti</text>
<text x="165.5" y="667.3" font-size="35.5" textLength="303.3" lengthAdjust="spacingAndGlyphs">KARLOVARSKÝ KRAJ</text>
<rect x="163.8" y="669.6" width="305.1" height="2" fill="#1d1d1b"/>
<rect x="487.6" y="674.6" width="151.5" height="29.4" fill="#243a85"/>
<rect x="487.6" y="708" width="88.0" height="29.6" fill="#95c11f"/>
<rect x="487.6" y="741.4" width="70.4" height="29.2" fill="#1d1d1b"/>
<rect x="487.6" y="774.3" width="45.0" height="29.7" fill="#0083c8"/>
<text x="395.4" y="702.0" font-size="35.5" textLength="73.4" lengthAdjust="spacingAndGlyphs">ANO</text>
<text x="260.0" y="734.9" font-size="35.5" textLength="208.8" lengthAdjust="spacingAndGlyphs">TOP 09+STAN</text>
<text x="394.0" y="769.0" font-size="35.5" textLength="74.8" lengthAdjust="spacingAndGlyphs">Piráti</text>
<text x="235.3" y="801.9" font-size="35.5" textLength="233.5" lengthAdjust="spacingAndGlyphs">KDU-ČSL +ODS</text>
<text x="1631.4" y="468.6" font-size="35.5" textLength="398.9" lengthAdjust="spacingAndGlyphs">MORAVSKOSLEZSKÝ KRAJ</text>
<rect x="1629.6" y="471.7" width="401.1" height="2" fill="#1d1d1b"/>
<rect x="2048.6" y="473.3" width="185.5" height="29.7" fill="#243a85"/>
<rect x="2048.6" y="506.6" width="84.6" height="29.5" fill="#0083c8"/>
<rect x="2048.6" y="540.3" width="70.8" height="29.4" fill="#1d1d1b"/>
<rect x="2048.6" y="573.3" width="58.4" height="29.5" fill="#ffdd00"/>
<text x="1956.6" y="502.3" font-size="35.5" textLength="73.7" lengthAdjust="spacingAndGlyphs">ANO</text>
<text x="1829.9" y="535.3" font-size="35.5" textLength="200.4" lengthAdjust="spacingAndGlyphs">ODS+TOP 09</text>
<text x="1953.9" y="569.0" font-size="35.5" textLength="76.4" lengthAdjust="spacingAndGlyphs">Piráti</text>
<text x="1891.9" y="603.1" font-size="35.5" textLength="138.4" lengthAdjust="spacingAndGlyphs">KDU-ČSL</text>
<text x="1893.1" y="719.1" font-size="35.5" textLength="277.9" lengthAdjust="spacingAndGlyphs">PARDUBICKÝ KRAJ</text>
<rect x="1891.4" y="721.8" width="279.1" height="2" fill="#1d1d1b"/>
<rect x="2189.1" y="723.7" width="119.5" height="29.1" fill="#243a85"/>
<rect x="2189.1" y="757.4" width="89.5" height="28.9" fill="#1d1d1b"/>
<rect x="2189.1" y="790.4" width="85.4" height="29.0" fill="#0083c8"/>
<rect x="2189.1" y="823.9" width="81.2" height="29.0" fill="#ffdd00"/>
<text x="2097.8" y="753.4" font-size="35.5" textLength="73.2" lengthAdjust="spacingAndGlyphs">ANO</text>
<text x="1976.8" y="785.9" font-size="35.5" textLength="194.2" lengthAdjust="spacingAndGlyphs">ČSSD+SproK</text>
<text x="1971.7" y="820.0" font-size="35.5" textLength="199.3" lengthAdjust="spacingAndGlyphs">ODS+TOP 09</text>
<text x="1884.8" y="854.1" font-size="35.5" textLength="286.2" lengthAdjust="spacingAndGlyphs">KDU+SNKED+Nestr.</text>
<text x="169.8" y="933.4" font-size="35.5" textLength="235.7" lengthAdjust="spacingAndGlyphs">PLZEŇSKÝ KRAJ</text>
<rect x="168.4" y="935.7" width="237.2" height="2" fill="#1d1d1b"/>
<rect x="424.3" y="941.6" width="137.9" height="29.2" fill="#243a85"/>
<rect x="424.3" y="975.2" width="129.6" height="29.2" fill="#0083c8"/>
<rect x="424.3" y="1008.6" width="90.7" height="29.2" fill="#95c11f"/>
<rect x="424.3" y="1041.5" width="82.6" height="29.2" fill="#1d1d1b"/>
<text x="332.4" y="968.1" font-size="35.5" textLength="73.1" lengthAdjust="spacingAndGlyphs">ANO</text>
<text x="207.0" y="1001.5" font-size="35.5" textLength="198.5" lengthAdjust="spacingAndGlyphs">ODS+TOP 09</text>
<text x="101.7" y="1035.5" font-size="35.5" textLength="303.8" lengthAdjust="spacingAndGlyphs">STAN+Z+PROPLZEŇ</text>
<text x="331.7" y="1069.1" font-size="35.5" textLength="73.8" lengthAdjust="spacingAndGlyphs">Piráti</text>
<text x="1787.4" y="1025.7" font-size="35.5" textLength="208.0" lengthAdjust="spacingAndGlyphs">ZLÍNSKÝ KRAJ</text>
<rect x="1787.5" y="1028.9" width="208.5" height="2" fill="#1d1d1b"/>
<rect x="2014.3" y="1033.9" width="116.6" height="29.7" fill="#243a85"/>
<rect x="2014.3" y="1067.4" width="113.9" height="29.4" fill="#ffdd00"/>
<rect x="2014.3" y="1100.6" width="80.6" height="29.4" fill="#1d1d1b"/>
<rect x="2014.3" y="1134.1" width="77.3" height="29.0" fill="#95c11f"/>
<text x="1922.9" y="1059.9" font-size="35.5" textLength="72.5" lengthAdjust="spacingAndGlyphs">ANO</text>
<text x="1859.4" y="1094.0" font-size="35.5" textLength="136.0" lengthAdjust="spacingAndGlyphs">KDU-ČSL</text>
<text x="1921.0" y="1127.7" font-size="35.5" textLength="74.4" lengthAdjust="spacingAndGlyphs">Piráti</text>
<text x="1916.3" y="1161.5" font-size="35.5" textLength="79.1" lengthAdjust="spacingAndGlyphs">STAN</text>
<text x="655.4" y="1165.1" font-size="35.5" textLength="252.3" lengthAdjust="spacingAndGlyphs">JIHOČESKÝ KRAJ</text>
<rect x="655.7" y="1168.5" width="252.8" height="2" fill="#1d1d1b"/>
<rect x="926.5" y="1174.6" width="110.9" height="29.6" fill="#243a85"/>
<rect x="926.5" y="1208" width="107.2" height="29.6" fill="#0083c8"/>
<rect x="926.5" y="1241.4" width="78.6" height="29.2" fill="#1d1d1b"/>
<rect x="926.5" y="1274.5" width="63.7" height="29.5" fill="#ffdd00"/>
<text x="834.4" y="1200.4" font-size="35.5" textLength="73.3" lengthAdjust="spacingAndGlyphs">ANO</text>
<text x="838.8" y="1232.1" font-size="35.5" textLength="68.9" lengthAdjust="spacingAndGlyphs">ODS</text>
<text x="833.3" y="1266.8" font-size="35.5" textLength="74.4" lengthAdjust="spacingAndGlyphs">Piráti</text>
<text x="642.6" y="1300.8" font-size="35.5" textLength="265.1" lengthAdjust="spacingAndGlyphs">KDU-ČSL+TOP 09</text>
<text x="852.6" y="1393.9" font-size="35.5" textLength="310.2" lengthAdjust="spacingAndGlyphs">STŘEDOČESKÝ KRAJ</text>
<rect x="852.5" y="1397.3" width="311.5" height="2" fill="#1d1d1b"/>
<rect x="1182" y="1402.7" width="135.7" height="29.2" fill="#95c11f"/>
<rect x="1182" y="1436.1" width="120.8" height="29.2" fill="#0083c8"/>
<rect x="1182" y="1469.3" width="113.7" height="29.4" fill="#243a85"/>
<rect x="1182" y="1502.6" width="87.8" height="29.3" fill="#1d1d1b"/>
<text x="1083.9" y="1428.6" font-size="35.5" textLength="78.9" lengthAdjust="spacingAndGlyphs">STAN</text>
<text x="1093.8" y="1461.5" font-size="35.5" textLength="69.0" lengthAdjust="spacingAndGlyphs">ODS</text>
<text x="1090.5" y="1496.6" font-size="35.5" textLength="72.3" lengthAdjust="spacingAndGlyphs">ANO</text>
<text x="1089.0" y="1530.3" font-size="35.5" textLength="73.8" lengthAdjust="spacingAndGlyphs">Piráti</text>
<text x="1407.8" y="1256.3" font-size="35.5" textLength="325.9" lengthAdjust="spacingAndGlyphs">JIHOMORAVSKÝ KRAJ</text>
<rect x="1406.1" y="1259.5" width="327.7" height="2" fill="#1d1d1b"/>
<rect x="1752" y="1265.1" width="121.3" height="29.4" fill="#243a85"/>
<rect x="1752" y="1298.5" width="95.0" height="29.2" fill="#ffdd00"/>
<rect x="1752" y="1331.8" width="84.4" height="29.2" fill="#1d1d1b"/>
<rect x="1752" y="1365" width="78.5" height="29.4" fill="#0083c8"/>
<text x="1660.8" y="1290.3" font-size="35.5" textLength="72.9" lengthAdjust="spacingAndGlyphs">ANO</text>
<text x="1597.8" y="1324.8" font-size="35.5" textLength="135.9" lengthAdjust="spacingAndGlyphs">KDU-ČSL</text>
<text x="1660.0" y="1358.4" font-size="35.5" textLength="73.7" lengthAdjust="spacingAndGlyphs">Piráti</text>
<text x="1431.3" y="1392.4" font-size="35.5" textLength="302.4" lengthAdjust="spacingAndGlyphs">ODS+Svobod.+SOM</text>
<text x="1433.7" y="1490.4" font-size="35.5" textLength="245.0" lengthAdjust="spacingAndGlyphs">KRAJ VYSOČINA</text>
<rect x="1432.3" y="1492.9" width="246.9" height="2" fill="#1d1d1b"/>
<rect x="1697.7" y="1496.9" width="112.7" height="29.8" fill="#243a85"/>
<rect x="1697.7" y="1530" width="80.5" height="29.8" fill="#1d1d1b"/>
<rect x="1697.7" y="1563.3" width="80.5" height="29.6" fill="#0083c8"/>
<rect x="1697.7" y="1596.4" width="73.2" height="29.9" fill="#ffdd00"/>
<text x="1605.9" y="1524.4" font-size="35.5" textLength="72.8" lengthAdjust="spacingAndGlyphs">ANO</text>
<text x="1604.4" y="1558.4" font-size="35.5" textLength="74.3" lengthAdjust="spacingAndGlyphs">Piráti</text>
<text x="1526.5" y="1592.0" font-size="35.5" textLength="152.2" lengthAdjust="spacingAndGlyphs">ODS+STO</text>
<text x="1542.0" y="1625.4" font-size="35.5" textLength="136.7" lengthAdjust="spacingAndGlyphs">KDU-ČSL</text>
<text x="1851" y="1626.5" font-size="29.5" textLength="153" lengthAdjust="spacingAndGlyphs">ZDROJ: ČSÚ</text>
</svg></body></html>
